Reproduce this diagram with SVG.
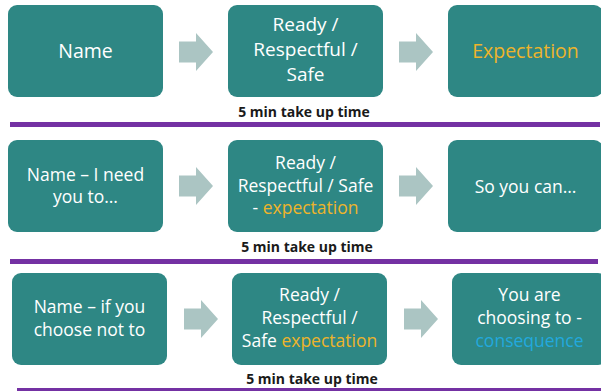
<svg xmlns="http://www.w3.org/2000/svg" width="601" height="391" viewBox="0 0 601 391">
<style>
.box{fill:#2E8784;}
.arr{fill:#ABC5C3;}
.t{font-family:"Open Sans","Liberation Sans",sans-serif;fill:#FFFFFF;text-anchor:middle;}
.y{fill:#EDB42B;}
.b{fill:#22A9DE;}
.lbl{font-family:"Open Sans","Liberation Sans",sans-serif;font-weight:bold;font-size:14px;fill:#1A1A1A;text-anchor:middle;}
.sep{fill:#7431A3;}
</style>
<defs>
<path id="ar" d="M0,-10.5 H17 V-19 L34,0 L17,19 V10.5 H0 Z"/>
</defs>
<g id="connectors">
<use href="#ar" class="arr" x="179" y="52"/>
<use href="#ar" class="arr" x="399" y="52"/>
<use href="#ar" class="arr" x="179" y="186"/>
<use href="#ar" class="arr" x="399" y="186"/>
<use href="#ar" class="arr" x="184" y="319"/>
<use href="#ar" class="arr" x="404" y="319"/>
</g>
<g id="n1"><rect class="box" x="8" y="5" width="155" height="92" rx="9"/>
<text class="t" font-size="19.5" x="85.5" y="58">Name</text></g>
<g id="n2"><rect class="box" x="228" y="5" width="155" height="92" rx="9"/>
<text class="t" font-size="19"><tspan x="305.5" y="31">Ready /</tspan><tspan x="305.5" y="56">Respectful /</tspan><tspan x="305.5" y="81">Safe</tspan></text></g>
<g id="n3"><rect class="box" x="448" y="5" width="155" height="92" rx="9"/>
<text class="t y" font-size="19.5" x="525.5" y="58">Expectation</text></g>
<text class="lbl" x="304" y="117">5 min take up time</text>
<rect class="sep" x="10" y="122" width="590" height="5"/>

<g id="n4"><rect class="box" x="8" y="140" width="155" height="92" rx="9"/>
<text class="t" font-size="17.5"><tspan x="85.5" y="181">Name – I need</tspan><tspan x="85.5" y="203">you to…</tspan></text></g>
<g id="n5"><rect class="box" x="228" y="140" width="155" height="92" rx="9"/>
<text class="t" font-size="17.5"><tspan x="305.5" y="169">Ready /</tspan><tspan x="305.5" y="192">Respectful / Safe</tspan><tspan x="305.5" y="214">- <tspan class="y">expectation</tspan></tspan></text></g>
<g id="n6"><rect class="box" x="448" y="140" width="155" height="92" rx="9"/>
<text class="t" font-size="17.5" x="525.5" y="193">So you can…</text></g>
<text class="lbl" x="307" y="252">5 min take up time</text>
<rect class="sep" x="10" y="259" width="588" height="5"/>

<g id="n7"><rect class="box" x="12" y="273" width="155" height="92" rx="9"/>
<text class="t" font-size="17.5"><tspan x="89.5" y="313">Name – if you</tspan><tspan x="89.5" y="336">choose not to</tspan></text></g>
<g id="n8"><rect class="box" x="232" y="273" width="155" height="92" rx="9"/>
<text class="t" font-size="17.5"><tspan x="309.5" y="301">Ready /</tspan><tspan x="309.5" y="324">Respectful /</tspan><tspan x="309.5" y="347">Safe <tspan class="y">expectation</tspan></tspan></text></g>
<g id="n9"><rect class="box" x="452" y="273" width="155" height="92" rx="9"/>
<text class="t" font-size="17.5"><tspan x="529.5" y="301">You are</tspan><tspan x="529.5" y="324">choosing to -</tspan><tspan x="529.5" y="347" class="b">consequence</tspan></text></g>
<text class="lbl" x="312" y="384">5 min take up time</text>
<rect class="sep" x="17" y="388" width="584" height="4"/>
</svg>
